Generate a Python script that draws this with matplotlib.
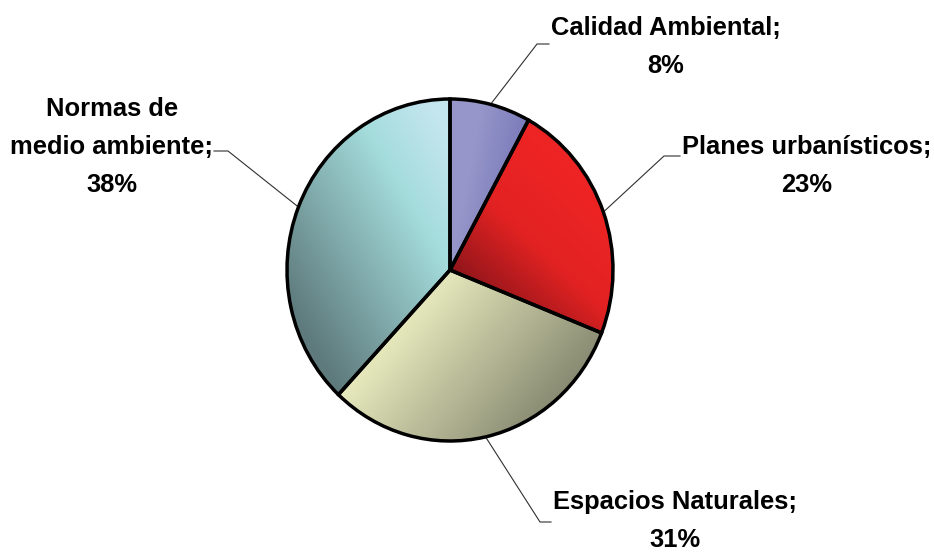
import numpy as np
import matplotlib
matplotlib.use("Agg")
import matplotlib.pyplot as plt
from matplotlib.colors import to_rgb


# ───────────────────────────── Datos ─────────────────────────────
categories = ["Calidad Ambiental", "Planes urbanísticos", "Espacios Naturales",
              "Normas de\nmedio ambiente"]
values = [8, 23, 31, 38]

# degradado de cada sector: dirección y paradas (proyección, color)
grad_dirs = [(1.0, -0.2), (-0.7, -0.8), (0.8, -0.7), (0.85, 0.53)]
grad_stops = [
    [(0.0, "#9696ca"), (0.45, "#6c6cb2")],
    [(-0.9, "#ee2424"), (-0.45, "#e22222"), (0.05, "#86141a")],
    [(-0.1, "#eef0c2"), (1.0, "#888a72")],
    [(-0.95, "#5e7a7c"), (0.0, "#a4dcdc"), (0.4, "#c4e6ee")],
]

# posición de las etiquetas en píxeles (centro x, línea base de la última línea)
label_px = [(666, 73), (807, 192), (675, 547), (112, 192)]
elbow_px = [((537, 44), (549, 44)),
            ((664, 156), (680, 156)),
            ((540, 522), (551, 522)),
            ((228, 151), (214, 151))]

W, H = 934, 552
CX, CY = 450, 270      # centro de la tarta en píxeles
RX, RY = 163, 171      # radio horizontal / vertical en píxeles


def px(x, y):
    return (x - CX) / RX, (CY - y) / RY


fig = plt.figure(figsize=(W / 100, H / 100), dpi=100)
ax = fig.add_axes([0, 0, 1, 1])

wedges, _ = ax.pie(values, startangle=90, counterclock=False,
                   colors=["none"] * len(values),
                   wedgeprops=dict(edgecolor="black", linewidth=2.5, zorder=3))
ax.set_aspect("auto")
ax.set_xlim(px(0, 0)[0], px(W, 0)[0])
ax.set_ylim(px(0, H)[1], px(0, 0)[1])
ax.axis("off")

# relleno con degradado recortado a cada sector
n = 400
gx, gy = np.meshgrid(np.linspace(-1.05, 1.05, n), np.linspace(-1.05, 1.05, n))
for w, d, stops in zip(wedges, grad_dirs, grad_stops):
    d = np.array(d) / np.hypot(*d)
    t = gx * d[0] + gy * d[1]
    ts = [s[0] for s in stops]
    cols = np.array([to_rgb(s[1]) for s in stops])
    img = np.dstack([np.interp(t, ts, cols[:, k]) for k in range(3)])
    im = ax.imshow(img, extent=(-1.05, 1.05, -1.05, 1.05), origin="lower",
                   aspect="auto", zorder=2, interpolation="bilinear")
    im.set_clip_path(w)

# etiquetas y líneas guía
for w, cat, v, (lx, ly), (e1, e2) in zip(wedges, categories, values, label_px, elbow_px):
    ang = np.deg2rad((w.theta1 + w.theta2) / 2)
    sx, sy = np.cos(ang), np.sin(ang)
    ex, ey = px(*e1)
    fx, fy = px(*e2)
    ax.plot([sx, ex, fx], [sy, ey, fy], color="#303030", linewidth=0.8, zorder=1)
    tx, ty = px(lx, ly)
    ax.text(tx, ty, f"{cat};\n{v}%", ha="center", va="baseline",
            multialignment="center", linespacing=1.75,
            fontsize=18.4, fontweight="bold", family="Liberation Sans")

fig.savefig("out.png", dpi=100)
